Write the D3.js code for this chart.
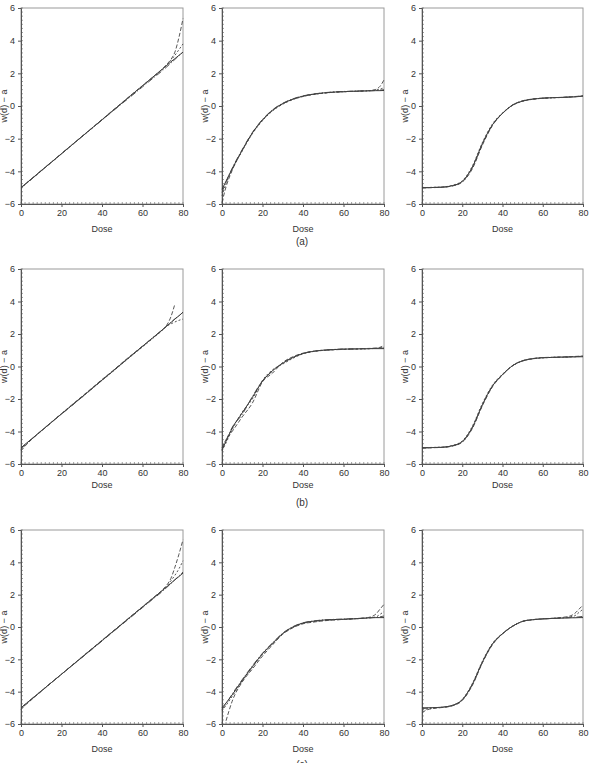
<!DOCTYPE html>
<html>
<head>
<meta charset="utf-8">
<script src="https://cdn.jsdelivr.net/npm/d3@7"></script>
<style>
  body { margin: 0; background: #fff; }
  svg { display: block; font-family: "Liberation Sans", Arial, sans-serif; }
</style>
</head>
<body>
<svg id="chart" width="589" height="763"></svg>
<script>
// dose grid shared by every curve
const doses = [0, 2, 5, 10, 15, 20, 25, 30, 35, 40, 45, 50, 55, 60, 65, 70, 72, 74, 76, 78, 80];
const xTicks = [0, 20, 40, 60, 80];
const yTicks = [-6, -4, -2, 0, 2, 4, 6];
const rowLabels = ["(a)", "(b)", "(c)"];

// row (a)
const a1True = [-5.0, -4.79, -4.48, -3.96, -3.44, -2.92, -2.4, -1.88, -1.36, -0.84, -0.32, 0.2, 0.72, 1.24, 1.76, 2.28, 2.49, 2.7, 2.9, 3.1, 3.3];
const a1Est1 = [-5.02, -4.8, -4.5, -3.97, -3.45, -2.93, -2.4, -1.87, -1.35, -0.83, -0.3, 0.22, 0.74, 1.25, 1.76, 2.3, 2.55, 2.85, 3.3, 4.2, 5.35];
const a1Est2 = [-5.05, -4.82, -4.5, -3.98, -3.45, -2.93, -2.41, -1.89, -1.37, -0.85, -0.33, 0.19, 0.7, 1.22, 1.73, 2.25, 2.5, 2.8, 3.1, 3.45, 3.8];
const a1Est3 = [-5.0, -4.78, -4.47, -3.95, -3.43, -2.91, -2.39, -1.88, -1.37, -0.86, -0.35, 0.16, 0.66, 1.17, 1.68, 2.18, 2.4, 2.62, 2.85, 3.08, 3.3];
const a2True = [-5.1, -4.6, -3.85, -2.7, -1.65, -0.85, -0.25, 0.15, 0.42, 0.6, 0.72, 0.8, 0.85, 0.88, 0.9, 0.92, 0.93, 0.93, 0.94, 0.94, 0.95];
const a2Est1 = [-5.9, -4.95, -3.95, -2.72, -1.66, -0.86, -0.27, 0.13, 0.41, 0.6, 0.72, 0.79, 0.84, 0.87, 0.9, 0.92, 0.93, 0.96, 1.02, 1.2, 1.6];
const a2Est2 = [-5.5, -4.75, -3.9, -2.75, -1.7, -0.9, -0.3, 0.11, 0.39, 0.58, 0.7, 0.78, 0.84, 0.87, 0.9, 0.91, 0.93, 0.95, 0.98, 1.03, 1.12];
const a2Est3 = [-5.3, -4.65, -3.82, -2.66, -1.62, -0.82, -0.23, 0.17, 0.44, 0.62, 0.73, 0.81, 0.86, 0.89, 0.91, 0.93, 0.93, 0.94, 0.95, 0.97, 1.0];
const a3True = [-5.0, -5.0, -4.99, -4.97, -4.88, -4.62, -3.75, -2.3, -1.15, -0.45, 0.05, 0.3, 0.42, 0.48, 0.51, 0.53, 0.54, 0.55, 0.56, 0.58, 0.6];
const a3Est1 = [-5.02, -5.01, -5.0, -4.97, -4.9, -4.66, -3.85, -2.4, -1.2, -0.45, 0.07, 0.32, 0.43, 0.48, 0.51, 0.53, 0.55, 0.56, 0.58, 0.6, 0.63];
const a3Est2 = [-4.98, -4.99, -4.98, -4.96, -4.86, -4.58, -3.68, -2.24, -1.1, -0.42, 0.04, 0.29, 0.41, 0.47, 0.5, 0.52, 0.53, 0.55, 0.57, 0.59, 0.62];
const a3Est3 = [-5.0, -5.0, -4.99, -4.97, -4.89, -4.63, -3.78, -2.34, -1.17, -0.46, 0.06, 0.31, 0.42, 0.48, 0.51, 0.53, 0.54, 0.56, 0.57, 0.59, 0.61];

// row (b)
const b1True = [-5.0, -4.79, -4.48, -3.96, -3.44, -2.92, -2.4, -1.88, -1.36, -0.84, -0.32, 0.2, 0.72, 1.24, 1.76, 2.28, 2.49, 2.7, 2.92, 3.12, 3.34];
const b1Est1 = [-5.2, -4.9, -4.52, -3.98, -3.45, -2.9, -2.37, -1.85, -1.33, -0.8, -0.3, 0.24, 0.75, 1.25, 1.75, 2.27, 2.55, 3.05, 3.85, null, null];
const b1Est2 = [-5.1, -4.85, -4.5, -3.97, -3.42, -2.9, -2.4, -1.9, -1.38, -0.86, -0.35, 0.18, 0.7, 1.2, 1.72, 2.25, 2.48, 2.62, 2.74, 2.84, 2.92];
const b1Est3 = [-5.05, -4.82, -4.5, -3.95, -3.43, -2.93, -2.42, -1.9, -1.37, -0.83, -0.31, 0.21, 0.73, 1.25, 1.77, 2.28, 2.5, 2.72, 2.93, 3.13, 3.34];
const b2True = [-5.1, -4.6, -3.8, -2.85, -1.9, -0.9, -0.25, 0.2, 0.55, 0.8, 0.93, 1.0, 1.04, 1.07, 1.08, 1.09, 1.09, 1.1, 1.1, 1.1, 1.1];
const b2Est1 = [-5.0, -4.5, -4.0, -3.1, -2.25, -0.95, -0.4, 0.25, 0.6, 0.82, 0.94, 1.0, 1.03, 1.05, 1.07, 1.1, 1.11, 1.12, 1.14, 1.18, 1.3];
const b2Est2 = [-5.2, -4.7, -3.9, -2.8, -2.0, -0.85, -0.2, 0.15, 0.5, 0.78, 0.92, 0.99, 1.03, 1.06, 1.07, 1.08, 1.09, 1.1, 1.12, 1.15, 1.2];
const b2Est3 = [-5.15, -4.55, -3.75, -2.95, -1.85, -0.88, -0.28, 0.22, 0.57, 0.8, 0.93, 1.01, 1.05, 1.08, 1.09, 1.1, 1.1, 1.11, 1.11, 1.12, 1.14];
const b3True = [-5.0, -5.0, -4.99, -4.97, -4.88, -4.62, -3.75, -2.35, -1.2, -0.5, 0.05, 0.35, 0.48, 0.54, 0.56, 0.58, 0.58, 0.59, 0.59, 0.6, 0.6];
const b3Est1 = [-5.03, -5.02, -5.0, -4.98, -4.9, -4.66, -3.82, -2.42, -1.25, -0.52, 0.06, 0.36, 0.49, 0.55, 0.57, 0.59, 0.6, 0.61, 0.62, 0.63, 0.65];
const b3Est2 = [-4.98, -4.99, -4.98, -4.96, -4.86, -4.58, -3.68, -2.28, -1.15, -0.47, 0.04, 0.34, 0.47, 0.53, 0.56, 0.57, 0.58, 0.59, 0.6, 0.61, 0.62];
const b3Est3 = [-5.0, -5.0, -4.99, -4.97, -4.89, -4.63, -3.78, -2.38, -1.22, -0.5, 0.05, 0.35, 0.48, 0.54, 0.56, 0.58, 0.59, 0.6, 0.61, 0.62, 0.64];

// row (c)
const c1True = [-5.0, -4.79, -4.48, -3.96, -3.44, -2.92, -2.4, -1.88, -1.36, -0.84, -0.32, 0.2, 0.72, 1.24, 1.76, 2.28, 2.49, 2.7, 2.92, 3.12, 3.34];
const c1Est1 = [-5.1, -4.85, -4.52, -3.98, -3.45, -2.92, -2.39, -1.86, -1.34, -0.82, -0.3, 0.22, 0.74, 1.26, 1.78, 2.32, 2.6, 3.0, 3.7, 4.5, 5.4];
const c1Est2 = [-5.05, -4.82, -4.5, -3.97, -3.44, -2.92, -2.4, -1.88, -1.36, -0.84, -0.32, 0.2, 0.72, 1.23, 1.75, 2.27, 2.52, 2.85, 3.2, 3.6, 4.1];
const c1Est3 = [-5.0, -4.78, -4.47, -3.95, -3.43, -2.92, -2.41, -1.9, -1.39, -0.87, -0.35, 0.17, 0.68, 1.2, 1.71, 2.22, 2.45, 2.68, 2.92, 3.16, 3.4];
const c2True = [-5.0, -4.7, -4.2, -3.3, -2.45, -1.65, -1.0, -0.4, 0.0, 0.25, 0.36, 0.43, 0.46, 0.48, 0.51, 0.54, 0.56, 0.57, 0.58, 0.58, 0.58];
const c2Est1 = [null, -5.8, -4.6, -3.4, -2.6, -1.8, -1.1, -0.45, -0.05, 0.2, 0.3, 0.38, 0.43, 0.47, 0.5, 0.55, 0.58, 0.65, 0.8, 1.1, 1.4];
const c2Est2 = [-5.2, -4.85, -4.3, -3.35, -2.5, -1.7, -1.05, -0.42, -0.03, 0.22, 0.33, 0.4, 0.44, 0.47, 0.5, 0.54, 0.56, 0.58, 0.62, 0.78, 0.95];
const c2Est3 = [-5.1, -4.75, -4.15, -3.25, -2.4, -1.62, -0.98, -0.38, 0.02, 0.26, 0.37, 0.44, 0.47, 0.49, 0.52, 0.55, 0.57, 0.58, 0.6, 0.63, 0.68];
const c3True = [-5.0, -5.0, -4.99, -4.96, -4.85, -4.5, -3.55, -2.17, -1.05, -0.41, 0.05, 0.35, 0.45, 0.5, 0.53, 0.55, 0.56, 0.57, 0.57, 0.58, 0.58];
const c3Est1 = [-5.3, -5.15, -5.05, -4.98, -4.88, -4.55, -3.62, -2.22, -1.1, -0.43, 0.04, 0.34, 0.45, 0.5, 0.54, 0.6, 0.63, 0.7, 0.85, 1.1, 1.35];
const c3Est2 = [-5.15, -5.08, -5.02, -4.97, -4.86, -4.48, -3.5, -2.12, -1.02, -0.4, 0.05, 0.35, 0.46, 0.51, 0.54, 0.57, 0.6, 0.64, 0.7, 0.9, 1.1];
const c3Est3 = [-5.05, -5.02, -5.0, -4.96, -4.85, -4.52, -3.57, -2.19, -1.07, -0.42, 0.05, 0.35, 0.45, 0.5, 0.53, 0.56, 0.57, 0.58, 0.6, 0.63, 0.66];

const panelSeries = [
  [[a1True, a1Est1, a1Est2, a1Est3], [a2True, a2Est1, a2Est2, a2Est3], [a3True, a3Est1, a3Est2, a3Est3]],
  [[b1True, b1Est1, b1Est2, b1Est3], [b2True, b2Est1, b2Est2, b2Est3], [b3True, b3Est1, b3Est2, b3Est3]],
  [[c1True, c1Est1, c1Est2, c1Est3], [c2True, c2Est1, c2Est2, c2Est3], [c3True, c3Est1, c3Est2, c3Est3]]
];

// layout
const colX = [[21, 183], [222, 384], [422, 583]];
const rowY = [[8, 204], [269, 464], [530, 724]];
const doseGap = [24, 20, 24];
const labelY = [245, 506, 768];
const dashes = [null, "4,2", "2,2", "6,2,1,2"];
const fontSize = "9px";

const svg = d3.select("#chart");

rowY.forEach((ry, r) => {
  colX.forEach((cx, c) => {
    let x = d3.scaleLinear().domain([0, 80]).range(cx);
    let y = d3.scaleLinear().domain([-6, 6]).range([ry[1], ry[0]]);
    let g = svg.append("g");

    // frame
    g.append("rect")
      .attr("x", cx[0]).attr("y", ry[0])
      .attr("width", cx[1] - cx[0]).attr("height", ry[1] - ry[0])
      .attr("fill", "none").attr("stroke", "#9a9a9a").attr("stroke-width", 1);

    // minor ticks inside
    let xMinor = d3.range(0, 81, 2);
    g.selectAll(".xm").data(xMinor).enter().append("line")
      .attr("x1", d => x(d)).attr("x2", d => x(d))
      .attr("y1", ry[1]).attr("y2", ry[1] - 2)
      .attr("stroke", "#777").attr("stroke-width", 0.7);
    let yMinor = d3.range(-6, 6.01, 0.25);
    g.selectAll(".ym").data(yMinor).enter().append("line")
      .attr("x1", cx[0]).attr("x2", cx[0] + 2)
      .attr("y1", d => y(d)).attr("y2", d => y(d))
      .attr("stroke", "#777").attr("stroke-width", 0.7);

    // axes
    let xAxis = d3.axisBottom(x).tickValues(xTicks).tickSize(3).tickPadding(3);
    let gx = g.append("g").attr("transform", `translate(0,${ry[1]})`).call(xAxis);
    let yAxis = d3.axisLeft(y).tickValues(yTicks).tickSize(3).tickPadding(3)
      .tickFormat(d => d < 0 ? "\u2212" + Math.abs(d) : d);
    let gy = g.append("g").attr("transform", `translate(${cx[0]},0)`).call(yAxis);
    [gx, gy].forEach(a => {
      a.select(".domain").attr("stroke", "#555");
      a.selectAll(".tick line").attr("stroke", "#555");
      a.selectAll("text").attr("fill", "#333").style("font-size", fontSize)
        .style("font-family", "'Liberation Sans', Arial, sans-serif");
    });

    g.append("text")
      .attr("x", (cx[0] + cx[1]) / 2).attr("y", ry[1] + doseGap[r] + 4)
      .attr("text-anchor", "middle").attr("fill", "#333").style("font-size", fontSize)
      .text("Dose");

    g.append("text")
      .attr("transform", `translate(${cx[0] - 14},${(ry[0] + ry[1]) / 2}) rotate(-90)`)
      .attr("text-anchor", "middle").attr("fill", "#333").style("font-size", fontSize)
      .text("w(d) \u2212 a");

    // curves
    let line = d3.line()
      .defined(d => d[1] !== null)
      .x(d => x(d[0])).y(d => y(d[1]))
      .curve(d3.curveMonotoneX);

    panelSeries[r][c].forEach((vals, k) => {
      g.append("path")
        .datum(doses.map((d, i) => [d, vals[i]]))
        .attr("d", line)
        .attr("fill", "none")
        .attr("stroke", k === 0 ? "#333" : "#444")
        .attr("stroke-width", k === 0 ? 1 : 0.9)
        .attr("stroke-dasharray", dashes[k]);
    });
  });

  svg.append("text")
    .attr("x", 302).attr("y", labelY[r])
    .attr("text-anchor", "middle").attr("fill", "#333").style("font-size", "10px")
    .text(rowLabels[r]);
});
</script>
</body>
</html>
